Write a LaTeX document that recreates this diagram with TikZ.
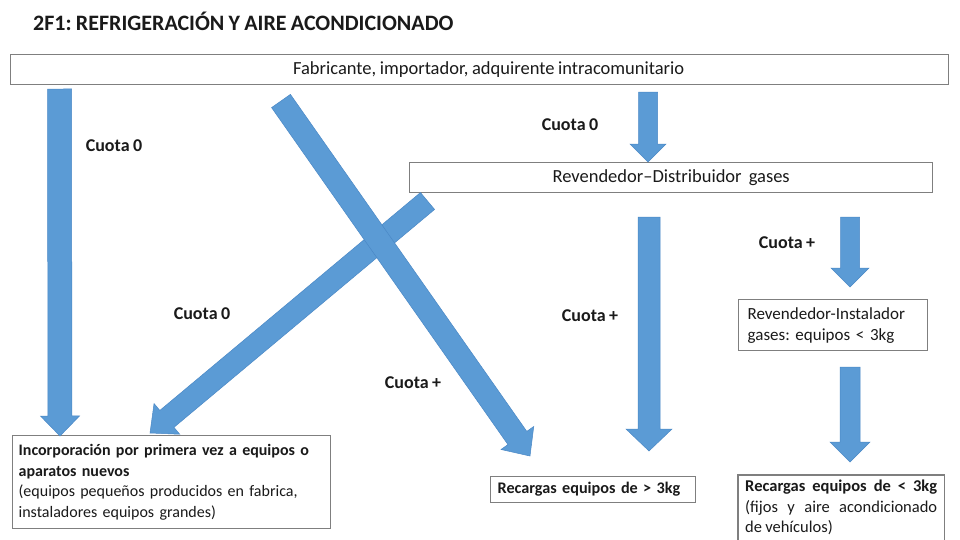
\documentclass[tikz,border=0pt]{standalone}
\usepackage{fontspec}
\setmainfont{Carlito}[WordSpace=0.85]
\frenchspacing
\usetikzlibrary{calc}
\definecolor{arrowblue}{HTML}{5B9BD5}
\definecolor{arrowedge}{HTML}{4A88C6}
\definecolor{boxline}{HTML}{7F7F7F}
\definecolor{txt}{HTML}{1A1A1A}
% #1 start, #2 end, #3 half shaft width, #4 half head width, #5 head length
\newcommand{\blockarrow}[5]{%
  \coordinate (bah) at ($(#2)!#5!(#1)$);
  \filldraw[bluearrow] ($(#1)!#3!90:(#2)$) -- ($(bah)!#3!90:(#2)$) -- ($(bah)!#4!90:(#2)$) -- (#2)
    -- ($(bah)!#4!-90:(#2)$) -- ($(bah)!#3!-90:(#2)$) -- ($(#1)!#3!-90:(#2)$) -- cycle;
}
\begin{document}
\begin{tikzpicture}[x=1pt,y=-1pt,
  box/.style={draw=boxline, line width=1.3pt, rectangle, inner sep=0pt, text=txt},
  lbl/.style={font=\fontsize{18}{22}\selectfont\bfseries, text=txt, inner sep=0pt},
  bluearrow/.style={fill=arrowblue, draw=arrowedge, line width=0.5pt, line join=miter}]
\useasboundingbox[fill=white] (0,0) rectangle (960,539);

% title
\node[anchor=base west, inner sep=0pt, text=txt, font=\fontsize{22}{26}\selectfont\bfseries] (title) at (33,30) {2F1: REFRIGERACIÓN Y AIRE ACONDICIONADO};

% boxes
\node[box, anchor=north west, minimum width=938pt, minimum height=30pt, font=\fontsize{18.5}{22}\selectfont] (fab) at (10,54) {\hspace{18pt}Fabricante, importador, adquirente intracomunitario};
\node[box, anchor=north west, minimum width=523pt, minimum height=30pt, font=\fontsize{18.5}{22}\selectfont] (dist) at (409,162) {Revendedor–Distribuidor\ \ gases};
\node[box, anchor=north west, text width=171pt, inner xsep=9pt, minimum height=51pt, align=left, font=\fontsize{17}{21}\selectfont] (inst) at (738,299) {Revendedor-Instalador\\gases: equipos < 3kg};
\node[box, anchor=north west, text width=306pt, inner xsep=6pt, minimum height=93pt, align=left, font=\fontsize{16}{20.5}\selectfont] (inc) at (12,435) {\textbf{Incorporación por primera vez a equipos o}\\\textbf{aparatos nuevos}\\(equipos pequeños producidos en fabrica,\\instaladores equipos grandes)};
\node[box, anchor=north west, text width=191pt, inner xsep=7pt, minimum height=26pt, align=left, font=\fontsize{16.2}{20.5}\selectfont] (rec1) at (490,476) {\textbf{Recargas equipos de > 3kg}};
\node[anchor=north west, text width=192pt, inner xsep=7pt, inner ysep=5pt, align=justify, text=txt, font=\fontsize{16.5}{20.5}\selectfont] (rec2) at (738,475) {\textbf{Recargas equipos de < 3kg}\linebreak (fijos y aire acondicionado\linebreak de vehículos)};
\coordinate (pagebottom) at (0,545);
\draw[draw=boxline, line width=1.3pt] (rec2.north west |- pagebottom) -- (rec2.north west) -- (rec2.north east) -- (rec2.north east |- pagebottom);

% arrow end points
\coordinate (a1s) at (59.5,89);   \coordinate (a1e) at (60,436);
\coordinate (a2s) at (281,101);   \coordinate (a2e) at (530,456);
\coordinate (a3s) at (427.5,201); \coordinate (a3e) at (150,433);
\coordinate (a4s) at (648,92);    \coordinate (a4e) at (648,162);
\coordinate (a5s) at (649,217);   \coordinate (a5e) at (649,451);
\coordinate (a6s) at (850,217);   \coordinate (a6e) at (850,287);
\coordinate (a7s) at (850,367);   \coordinate (a7e) at (850,462);

\blockarrow{a1s}{a1e}{12pt}{19.5pt}{20pt}
\blockarrow{a3s}{a3e}{11pt}{20pt}{22pt}
\blockarrow{a2s}{a2e}{11.5pt}{20pt}{22pt}
\blockarrow{a4s}{a4e}{9.5pt}{18pt}{18pt}
\blockarrow{a5s}{a5e}{11pt}{23pt}{22pt}
\blockarrow{a6s}{a6e}{9.5pt}{19pt}{19pt}
\blockarrow{a7s}{a7e}{10pt}{20pt}{20pt}

% labels
\node[lbl] (c1) at (114,146) {Cuota 0};
\node[lbl] (c2) at (570,125) {Cuota 0};
\node[lbl] (c3) at (787,243) {Cuota +};
\node[lbl] (c4) at (202,314) {Cuota 0};
\node[lbl] (c5) at (590,316) {Cuota +};
\node[lbl] (c6) at (413,383) {Cuota +};
\end{tikzpicture}
\end{document}
